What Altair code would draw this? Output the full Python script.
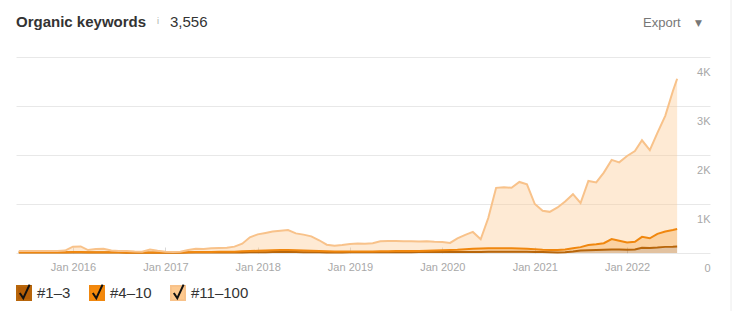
import altair as alt
import pandas as pd

# ---- data ----
dates = (
    [f"2015-{m:02d}-01" for m in range(6, 13)]
    + [f"{y}-{m:02d}-01" for y in range(2016, 2022) for m in range(1, 13)]
    + [f"2022-{m:02d}-01" for m in range(1, 8)]
    + ["2022-07-18"]
)

kw_1_3 = [
    8, 8, 8, 8, 8, 8, 8,
    8, 8, 8, 8, 8, 8, 8, 6, 6, 6, 6, 6,
    6, 6, 6, 8, 8, 10, 10, 10, 10, 10, 12, 15,
    15, 15, 18, 18, 18, 18, 15, 15, 15, 12, 12, 12,
    15, 15, 15, 15, 15, 15, 15, 15, 15, 18, 18, 18,
    20, 20, 20, 22, 22, 22, 25, 25, 25, 25, 25, 25,
    22, 20, 15, 12, 15, 30, 50, 55, 60, 65, 70, 72,
    65, 70, 105, 100, 110, 125, 130, 135,
]
kw_4_10 = [
    7, 7, 7, 7, 7, 7, 7,
    10, 10, 7, 7, 7, 7, 7, 6, 6, 6, 6, 6,
    6, 6, 6, 7, 10, 10, 12, 15, 15, 18, 23, 25,
    30, 35, 37, 42, 42, 37, 35, 30, 25, 23, 18, 18,
    15, 15, 15, 17, 20, 23, 25, 25, 25, 24, 27, 32,
    35, 40, 45, 53, 63, 68, 70, 70, 70, 70, 65, 60,
    53, 45, 45, 48, 55, 65, 70, 110, 120, 135, 215, 178,
    150, 160, 225, 200, 280, 315, 340, 355,
]
kw_11_100 = [
    25, 25, 25, 25, 25, 25, 35,
    112, 117, 45, 65, 70, 35, 25, 28, 18, 13, 58, 33,
    13, 8, 13, 45, 67, 60, 73, 75, 80, 102, 155, 280,
    335, 360, 385, 395, 410, 345, 325, 295, 220, 135, 120, 135,
    155, 165, 160, 168, 205, 207, 205, 200, 200, 193, 195, 180,
    170, 145, 235, 295, 345, 190, 620, 1235, 1245, 1235, 1360, 1315,
    925, 795, 780, 870, 980, 1105, 900, 1305, 1260, 1440, 1615, 1600,
    1765, 1850, 1970, 1800, 2060, 2360, 2830, 3066,
]

series_names = ["#1–3", "#4–10", "#11–100"]
legend_colors = ["#b45e06", "#f5890a", "#fdc98f"]
line_colors = ["#b8660b", "#f0870e", "#f8c28a"]
y_ticks = [0, 1000, 2000, 3000, 4000]
year_ticks = list(range(2016, 2023))

title_text = "Organic keywords"
total_text = "3,556"
export_text = "Export"

FONT = "Liberation Sans"

rows = []
for i, d in enumerate(dates):
    lo = 0
    for name, vals in zip(series_names, [kw_1_3, kw_4_10, kw_11_100]):
        hi = lo + vals[i]
        rows.append({"date": pd.Timestamp(d), "series": name, "chk": name,
                     "lo": lo, "hi": hi})
        lo = hi
df = pd.DataFrame(rows)

x_enc = alt.X(
    "date:T",
    scale=alt.Scale(domain=[alt.DateTime(year=2015, month=5, date=21),
                            alt.DateTime(year=2022, month=11, date=25)]),
    axis=alt.Axis(
        title=None,
        values=[alt.DateTime(year=y, month=1, date=1) for y in year_ticks],
        format="%b %Y", labelColor="#a8a8a8", labelFontSize=11, labelFont=FONT,
        domain=False, ticks=True, tickSize=6, tickColor="#d8d8d8",
        offset=-6, labelPadding=8, grid=False, labelFlush=False,
    ),
)
y_scale = alt.Scale(domain=[0, 4000], nice=False)
y_axis = alt.Axis(
    orient="right", values=y_ticks, title=None, grid=True, gridColor="#e8e8e8",
    domain=False, ticks=False, tickSize=0, labelAlign="right",
    labelBaseline="top", labelOffset=9, labelPadding=0,
    labelColor="#a8a8a8", labelFontSize=11, labelFont=FONT,
    labelExpr="datum.value == 0 ? '0' : (datum.value / 1000) + 'K'",
)

legend_common = dict(
    orient="none", legendX=0, legendY=228, direction="horizontal",
    title=None, symbolSize=196, symbolOpacity=1, symbolStrokeWidth=2,
    labelFontSize=15, labelColor="#333333", labelFont=FONT,
    labelOffset=5, columnPadding=15, padding=0,
)

base = alt.Chart(df)

areas = base.mark_area(opacity=0.38, interpolate="linear").encode(
    x=x_enc,
    y=alt.Y("hi:Q", scale=y_scale, axis=y_axis),
    y2="lo:Q",
    fill=alt.Fill(
        "series:N",
        scale=alt.Scale(domain=series_names, range=legend_colors),
        legend=alt.Legend(symbolType="square", symbolStrokeColor="transparent",
                          **legend_common),
    ),
)

lines = base.mark_line(strokeWidth=2, interpolate="linear").encode(
    x="date:T",
    y="hi:Q",
    stroke=alt.Stroke("series:N",
                      scale=alt.Scale(domain=series_names, range=line_colors),
                      legend=None),
)

check_path = "M-1,-1M1,1M-0.6,0.0L-0.1,0.75L0.8,-1.2"
checks = base.mark_point(filled=False, opacity=0, color="#111111").encode(
    x="date:T",
    y="hi:Q",
    shape=alt.Shape(
        "chk:N", sort=series_names,
        scale=alt.Scale(range=[check_path] * 3),
        legend=alt.Legend(symbolFillColor="transparent",
                          symbolStrokeColor="#111111", labelOpacity=0,
                          **legend_common),
    ),
)

title_mark = alt.Chart(pd.DataFrame({"t": [title_text]})).mark_text(
    align="left", baseline="alphabetic", fontSize=15, fontWeight="bold",
    color="#333333", font=FONT,
).encode(text="t:N", x=alt.value(0), y=alt.value(-30))

info_mark = alt.Chart(pd.DataFrame({"t": ["i"]})).mark_text(
    align="left", baseline="alphabetic", fontSize=9, color="#aaaaaa", font=FONT,
).encode(text="t:N", x=alt.value(141), y=alt.value(-33))

total_mark = alt.Chart(pd.DataFrame({"t": [total_text]})).mark_text(
    align="left", baseline="alphabetic", fontSize=15, color="#333333", font=FONT,
).encode(text="t:N", x=alt.value(154), y=alt.value(-30))

export_mark = alt.Chart(pd.DataFrame({"t": [export_text]})).mark_text(
    align="left", baseline="alphabetic", fontSize=13, color="#777777", font=FONT,
).encode(text="t:N", x=alt.value(627), y=alt.value(-30.5))

arrow_mark = alt.Chart(pd.DataFrame({"t": ["▼"]})).mark_text(
    align="center", baseline="middle", fontSize=9, color="#777777",
    font="DejaVu Sans",
).encode(text="t:N", x=alt.value(682.5), y=alt.value(-34.5))

border = alt.Chart(pd.DataFrame({"t": [0]})).mark_rule(
    color="#ececec", strokeWidth=1,
).encode(x=alt.value(715), y=alt.value(-57), y2=alt.value(254))

chart = (
    alt.layer(areas, lines, checks, title_mark, info_mark, total_mark,
              export_mark, arrow_mark, border)
    .resolve_scale(shape="independent")
    .properties(
        width=694, height=196,
        autosize=alt.AutoSizeParams(type="none"),
        padding={"left": 16, "top": 57, "right": 22, "bottom": 58},
        background="white",
    )
    .configure(font=FONT)
    .configure_view(stroke=None)
)

chart.save("out.html", embed_options={"renderer": "svg", "actions": False})
